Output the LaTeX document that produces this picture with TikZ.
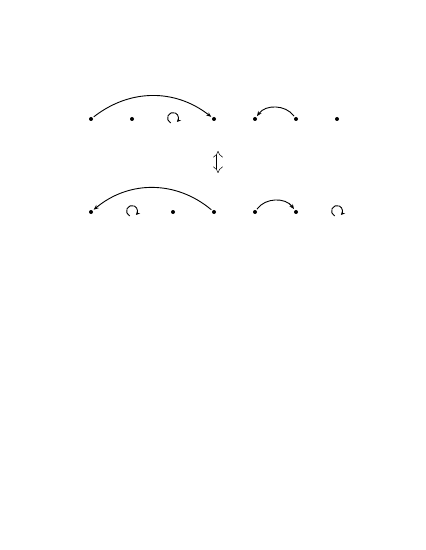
\documentclass[tikz,border=0pt]{standalone}
\usetikzlibrary{arrows.meta}
\begin{document}
\begin{tikzpicture}[x=1bp,y=-1bp,
  dot/.style={circle,fill=black,inner sep=0pt,minimum size=4bp,outer sep=1.5bp},
  spot/.style={inner sep=0pt,minimum size=4bp},
  arc/.style={line width=0.9bp,-{Stealth[length=5bp,width=4bp]}},
  loopmark/.style={line width=0.9bp,-{Stealth[length=4bp,width=4bp]}}]
\useasboundingbox (0,0) rectangle (425,550);
% top row
\node[dot] (t1) at (91,119) {};
\node[dot] (t2) at (132,119) {};
\node[spot] (t3) at (173,118) {};
\node[dot] (t4) at (214,119) {};
\node[dot] (t5) at (255,119) {};
\node[dot] (t6) at (296,119) {};
\node[dot] (t7) at (337,119) {};
% bottom row
\node[dot] (b1) at (91,212) {};
\node[spot] (b2) at (132,211) {};
\node[dot] (b3) at (173,212) {};
\node[dot] (b4) at (214,212) {};
\node[dot] (b5) at (255,212) {};
\node[dot] (b6) at (296,212) {};
\node[spot] (b7) at (337,211) {};
% arcs
\draw[arc] (t1) to[out=38,in=142] (t4);
\draw[arc] (t6) to[out=125,in=55] (t5);
\draw[arc] (b4) to[out=140,in=40] (b1);
\draw[arc] (b5) to[out=55,in=125] (b6);
% loops
\foreach \n in {t3,b2,b7}
  \draw[loopmark] ([shift={(-115:5.5bp)}]\n.center) arc[start angle=-115,end angle=-405,radius=5.5bp];
% double arrow
\coordinate (u) at (218,151);
\coordinate (d) at (218,173);
\draw[line width=0.5bp,double distance=3bp,{Implies}-{Implies}] (u) -- (d);
\end{tikzpicture}
\end{document}
